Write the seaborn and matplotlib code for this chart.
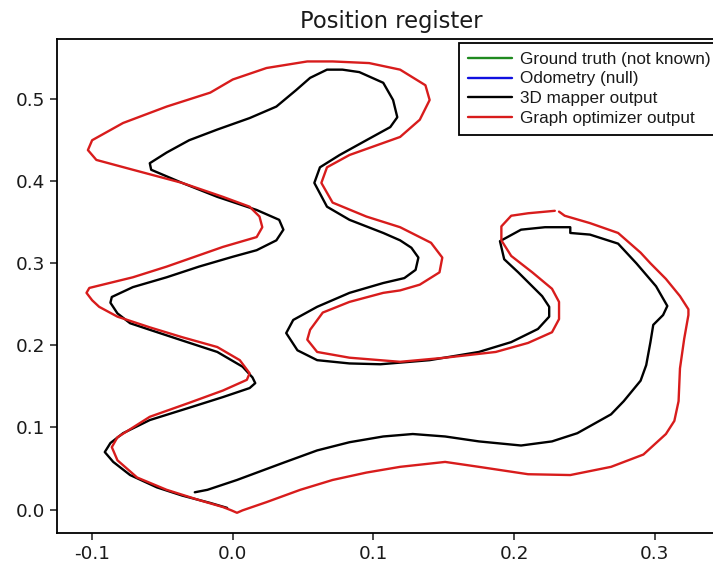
import numpy as np
import pandas as pd
import matplotlib
matplotlib.use("Agg")
import matplotlib.pyplot as plt
import seaborn as sns

# 3D mapper trajectory (x, y)
mapper_x = [-0.027, -0.018, 0.003, 0.036, 0.060, 0.083, 0.107, 0.128, 0.151, 0.175,
            0.205, 0.227, 0.245, 0.269, 0.278, 0.290, 0.294, 0.297, 0.299, 0.306,
            0.309, 0.301, 0.287, 0.274, 0.254, 0.240, 0.240, 0.222, 0.205, 0.190,
            0.193, 0.203, 0.220, 0.225, 0.225, 0.217, 0.198, 0.175, 0.140, 0.105,
            0.083, 0.060, 0.046, 0.038, 0.043, 0.060, 0.083, 0.107, 0.122, 0.130,
            0.132, 0.127, 0.119, 0.107, 0.083, 0.067, 0.058, 0.062, 0.076, 0.095,
            0.112, 0.117, 0.114, 0.107, 0.090, 0.078, 0.067, 0.055, 0.045, 0.031,
            0.012, -0.011, -0.031, -0.047, -0.059, -0.058, -0.036, -0.011, 0.017, 0.033,
            0.036, 0.031, 0.017, 0.000, -0.024, -0.047, -0.071, -0.086, -0.087, -0.082,
            -0.073, -0.059, -0.036, -0.011, 0.007, 0.014, 0.016, 0.012, -0.007, -0.031,
            -0.059, -0.078, -0.087, -0.091, -0.085, -0.073, -0.054, -0.036, -0.016, -0.004]
mapper_y = [0.021, 0.024, 0.036, 0.057, 0.072, 0.082, 0.089, 0.092, 0.089, 0.083,
            0.078, 0.083, 0.093, 0.116, 0.132, 0.157, 0.176, 0.204, 0.225, 0.237,
            0.248, 0.272, 0.300, 0.324, 0.335, 0.337, 0.344, 0.344, 0.341, 0.327,
            0.305, 0.289, 0.260, 0.247, 0.235, 0.220, 0.204, 0.192, 0.182, 0.177,
            0.178, 0.182, 0.194, 0.215, 0.231, 0.247, 0.264, 0.276, 0.282, 0.292,
            0.307, 0.319, 0.328, 0.337, 0.353, 0.369, 0.398, 0.417, 0.432, 0.450,
            0.466, 0.478, 0.499, 0.520, 0.533, 0.536, 0.536, 0.526, 0.511, 0.491,
            0.477, 0.463, 0.450, 0.435, 0.422, 0.414, 0.398, 0.381, 0.365, 0.353,
            0.341, 0.328, 0.316, 0.308, 0.296, 0.283, 0.271, 0.259, 0.252, 0.239,
            0.227, 0.219, 0.206, 0.192, 0.174, 0.161, 0.154, 0.148, 0.137, 0.124,
            0.109, 0.093, 0.081, 0.070, 0.058, 0.042, 0.027, 0.017, 0.008, 0.002]

# Graph optimizer trajectory (x, y)
optim_x = [0.229, 0.210, 0.198, 0.191, 0.191, 0.198, 0.213, 0.227, 0.232, 0.232,
           0.227, 0.210, 0.187, 0.151, 0.119, 0.083, 0.060, 0.053, 0.055, 0.064,
           0.083, 0.107, 0.119, 0.133, 0.147, 0.149, 0.141, 0.119, 0.095, 0.071,
           0.063, 0.067, 0.083, 0.119, 0.133, 0.140, 0.137, 0.119, 0.097, 0.071,
           0.053, 0.024, 0.000, -0.016, -0.047, -0.078, -0.100, -0.103, -0.097, -0.071,
           -0.036, -0.007, 0.012, 0.019, 0.021, 0.017, -0.007, -0.047, -0.071, -0.102,
           -0.104, -0.100, -0.095, -0.082, -0.059, -0.036, -0.011, 0.005, 0.012, 0.010,
           -0.007, -0.031, -0.059, -0.082, -0.086, -0.082, -0.068, -0.047, -0.023, -0.007,
           -0.001, 0.003, 0.007, 0.024, 0.048, 0.071, 0.095, 0.119, 0.151, 0.175,
           0.210, 0.240, 0.269, 0.292, 0.308, 0.314, 0.317, 0.318, 0.321, 0.324,
           0.324, 0.318, 0.308, 0.297, 0.290, 0.274, 0.254, 0.236, 0.232]
optim_y = [0.364, 0.361, 0.358, 0.345, 0.328, 0.309, 0.289, 0.269, 0.253, 0.232,
           0.216, 0.203, 0.192, 0.185, 0.180, 0.185, 0.192, 0.207, 0.219, 0.240,
           0.253, 0.264, 0.267, 0.274, 0.289, 0.307, 0.325, 0.344, 0.357, 0.374,
           0.398, 0.417, 0.432, 0.454, 0.475, 0.499, 0.517, 0.536, 0.544, 0.546,
           0.546, 0.538, 0.524, 0.508, 0.491, 0.471, 0.450, 0.438, 0.426, 0.414,
           0.398, 0.381, 0.369, 0.357, 0.344, 0.332, 0.320, 0.296, 0.283, 0.270,
           0.264, 0.255, 0.247, 0.235, 0.222, 0.210, 0.198, 0.182, 0.166, 0.158,
           0.145, 0.130, 0.113, 0.088, 0.076, 0.060, 0.039, 0.024, 0.011, 0.003,
           -0.001, -0.004, -0.001, 0.009, 0.024, 0.036, 0.045, 0.052, 0.058, 0.052,
           0.043, 0.042, 0.052, 0.067, 0.092, 0.108, 0.132, 0.172, 0.208, 0.237,
           0.244, 0.260, 0.281, 0.300, 0.313, 0.337, 0.349, 0.358, 0.363]

labels = ["Ground truth (not known)", "Odometry (null)",
          "3D mapper output", "Graph optimizer output"]
colors = ["#1f8a1f", "#1010e0", "#000000", "#d81c1c"]

sns.set_style("ticks")
plt.rcParams["font.family"] = ["DejaVu Sans"]
plt.rcParams["text.color"] = "#1a1a1a"
plt.rcParams["xtick.color"] = "#1a1a1a"
plt.rcParams["ytick.color"] = "#1a1a1a"

fig = plt.figure(figsize=(7.13, 5.71), dpi=100)
ax = fig.add_axes([0.0799, 0.066, 0.9369, 0.8652])

mapper = pd.DataFrame({"x": mapper_x, "y": mapper_y})
optim = pd.DataFrame({"x": optim_x, "y": optim_y})

# no data for the first two sources: they only appear in the legend
ax.plot([], [], color=colors[0], lw=1.7, label=labels[0])
ax.plot([], [], color=colors[1], lw=1.7, label=labels[1])
sns.lineplot(data=mapper, x="x", y="y", sort=False, estimator=None,
             color=colors[2], lw=1.7, label=labels[2], ax=ax)
sns.lineplot(data=optim, x="x", y="y", sort=False, estimator=None,
             color=colors[3], lw=1.7, label=labels[3], ax=ax)

ax.set_xlim(-0.125, 0.35)
ax.set_ylim(-0.029, 0.573)
ax.set_xticks([-0.1, 0.0, 0.1, 0.2, 0.3])
ax.set_yticks([0.0, 0.1, 0.2, 0.3, 0.4, 0.5])
ax.xaxis.set_major_formatter(matplotlib.ticker.FormatStrFormatter("%.1f"))
ax.yaxis.set_major_formatter(matplotlib.ticker.FormatStrFormatter("%.1f"))
ax.set_xlabel("")
ax.set_ylabel("")
ax.tick_params(labelsize=13.3, length=5, width=1.1, direction="out")
for s in ax.spines.values():
    s.set_linewidth(1.3)
    s.set_color("black")
ax.set_title("Position register", fontsize=16.3, pad=8)

leg = ax.legend(loc="upper left", bbox_to_anchor=(0.6018, 0.9925),
                borderaxespad=0, frameon=True, fancybox=False,
                edgecolor="black", framealpha=1,
                prop={"family": "Liberation Sans", "size": 12.3},
                handlelength=2.6, handletextpad=0.45, labelspacing=0.29,
                borderpad=0.5)
leg.get_frame().set_linewidth(1.3)

fig.savefig("out.png", dpi=100)
